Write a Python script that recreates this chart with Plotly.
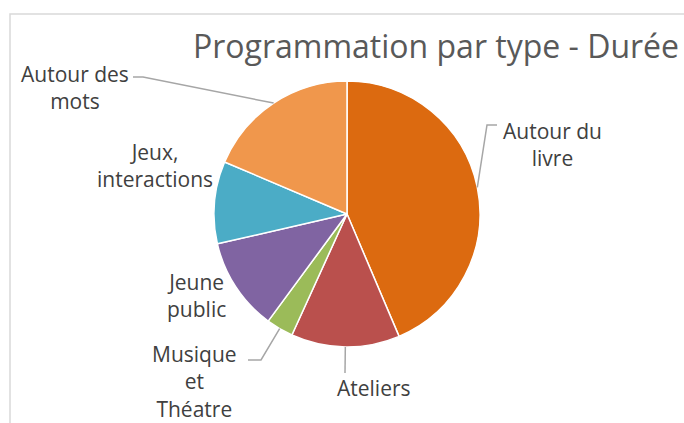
import math
import plotly.graph_objects as go

W, H = 684, 423

categories = ["Autour du livre", "Ateliers", "Musique et Théatre", "Jeune public",
              "Jeux, interactions", "Autour des mots"]
values = [43.6, 13.2, 3.3, 11.3, 10.0, 18.6]
colors = ["#DC6A10", "#BA504D", "#9BBB59", "#8064A2", "#4BACC6", "#F0974C"]
label_text = ["Autour du<br>livre", "Ateliers", "Musique<br>et<br>Théatre", "Jeune<br>public",
              "Jeux,<br>interactions", "Autour des<br>mots"]
title_text = "Programmation par type - Durée"

# pie geometry (pixels)
cx, cy, R = 347, 214, 133

def px(x):
    return x / W

def py(y):
    return 1 - y / H

fig = go.Figure()
fig.add_trace(go.Pie(
    labels=categories, values=values, sort=False, direction="clockwise", rotation=0,
    marker=dict(colors=colors, line=dict(color="white", width=1.5)),
    textinfo="none", hoverinfo="label+percent", showlegend=False,
    domain=dict(x=[px(cx - R), px(cx + R)], y=[py(cy + R), py(cy - R)]),
))

# label positions (pixels) and leader elbows
label_pos = [(552, 145), (374, 388), (194, 381), (196, 295), (155, 165), (75, 88)]
leaders = {0: [(497, 125), (487, 125)], 1: [(345, 373)], 2: [(248, 360), (261, 360)],
           5: [(133, 77), (143, 77)]}

total = sum(values)
cum = 0
mids = []
for v in values:
    mids.append((cum + v / 2) / total * 2 * math.pi)
    cum += v

annotations = []
for i, (lx, ly) in enumerate(label_pos):
    annotations.append(dict(
        x=px(lx), y=py(ly), xref="paper", yref="paper", text=label_text[i], showarrow=False,
        font=dict(family="Open Sans", size=21, color="#404040"), align="center",
        xanchor="center", yanchor="middle"))

shapes = []
for i, pts in leaders.items():
    a = mids[i]
    ex, ey = cx + R * math.sin(a), cy - R * math.cos(a)
    path_pts = pts + [(ex, ey)]
    d = "M " + " L ".join(f"{px(x)},{py(y)}" for x, y in path_pts)
    shapes.append(dict(type="path", path=d, xref="paper", yref="paper",
                       line=dict(color="#A6A6A6", width=1.5)))

# chart area outline
shapes.append(dict(type="path", path=f"M {px(10)},{py(423)} L {px(10)},{py(14)} L {px(684)},{py(14)}",
                   xref="paper", yref="paper", line=dict(color="#D9D9D9", width=1.5)))

annotations.append(dict(x=px(436), y=py(45), xref="paper", yref="paper", text=title_text,
                        showarrow=False, font=dict(family="Open Sans", size=32, color="#595959"),
                        xanchor="center", yanchor="middle"))

fig.update_layout(width=W, height=H, margin=dict(l=0, r=0, t=0, b=0),
                  paper_bgcolor="white", plot_bgcolor="white",
                  annotations=annotations, shapes=shapes)
fig.write_html("out.html", config={"displayModeBar": False},
               post_script="document.body.style.margin='0';")
